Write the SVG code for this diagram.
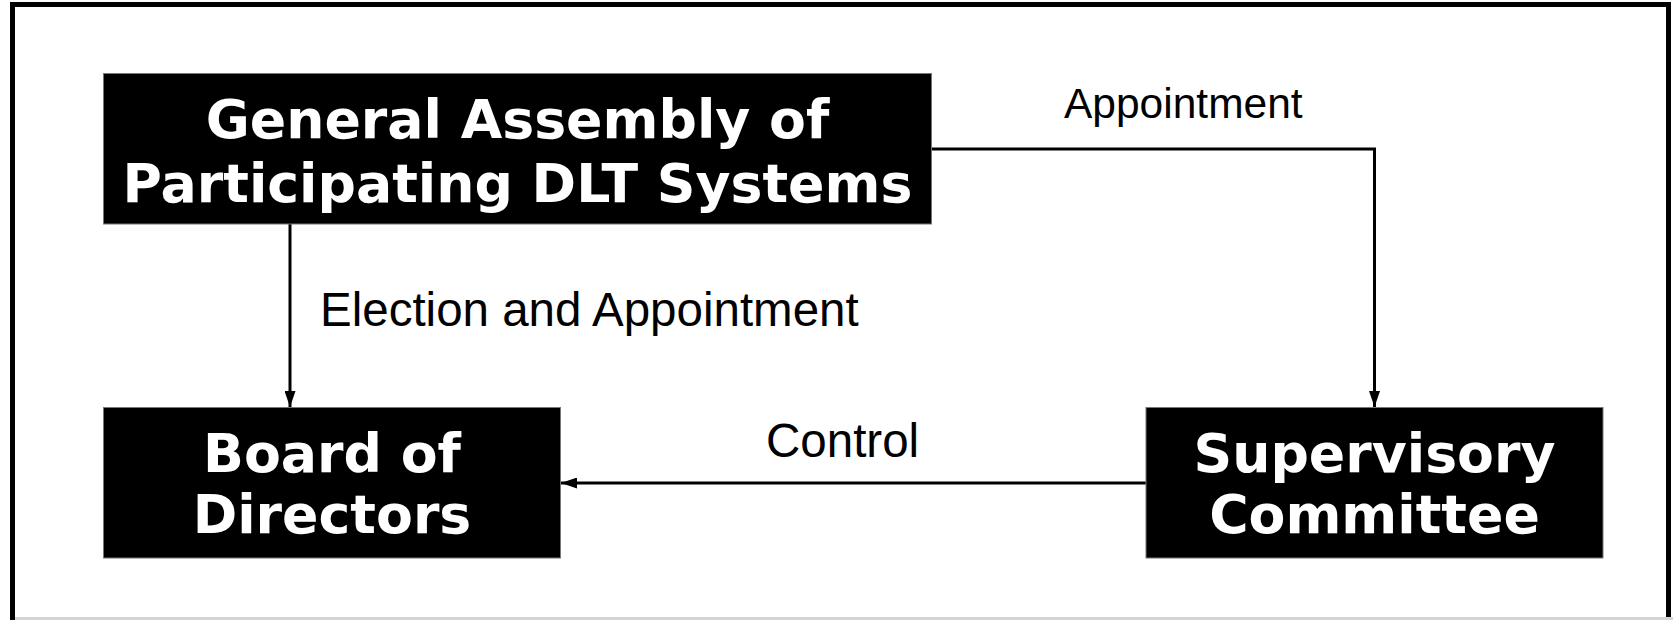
<svg xmlns="http://www.w3.org/2000/svg" width="1673" height="620" viewBox="0 0 1673 620">
<style>
.box{fill:#000;stroke:#777;stroke-width:1}
.bt{font-family:"DejaVu Sans",Verdana,sans-serif;font-weight:bold;font-size:53.7px;fill:#fff;text-anchor:middle}
.lb{font-family:"Liberation Sans",Arial,sans-serif;font-size:47.5px;fill:#000}
.conn{fill:none;stroke:#000;stroke-width:3}
</style>
<defs>
<marker id="ah" viewBox="0 0 16 11" refX="16" refY="5.5" markerWidth="16" markerHeight="11" markerUnits="userSpaceOnUse" orient="auto">
<path d="M0,0 L16,5.5 L0,11 Z" fill="#000"/>
</marker>
</defs>
<rect width="1673" height="620" fill="#fff"/>
<path d="M12.5,620 V4.5 H1668.5 V620" fill="none" stroke="#000" stroke-width="5"/>
<line x1="15" y1="618.5" x2="1673" y2="618.5" stroke="#d4d4d4" stroke-width="3"/>
<g id="connectors">
<path class="conn" d="M290,224 V407" marker-end="url(#ah)"/>
<path class="conn" d="M931,149 H1374.5 V407" marker-end="url(#ah)"/>
<path class="conn" d="M1146,483 H561" marker-end="url(#ah)"/>
<text class="lb" x="1064" y="118" style="font-size:42.5px">Appointment</text>
<text class="lb" x="320" y="326">Election and Appointment</text>
<text class="lb" x="766" y="457">Control</text>
</g>
<g id="general-assembly">
<rect class="box" x="103.5" y="73.5" width="828" height="150.5"/>
<text class="bt" x="517.5" y="138">General Assembly of</text>
<text class="bt" x="517.5" y="202">Participating DLT Systems</text>
</g>
<g id="board">
<rect class="box" x="103.5" y="407.5" width="457" height="150.5"/>
<text class="bt" x="332" y="472">Board of</text>
<text class="bt" x="332" y="533">Directors</text>
</g>
<g id="supervisory">
<rect class="box" x="1146" y="407.5" width="457" height="150.5"/>
<text class="bt" x="1374.5" y="472">Supervisory</text>
<text class="bt" x="1374.5" y="533">Committee</text>
</g>
</svg>
